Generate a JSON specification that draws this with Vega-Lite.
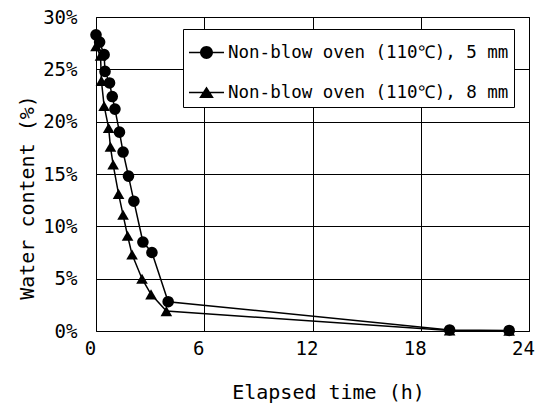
{
  "$schema": "https://vega.github.io/schema/vega-lite/v6.json",
  "width": 433,
  "height": 314,
  "autosize": {"type": "none"},
  "padding": {"left": 96, "top": 17, "right": 6, "bottom": 73},
  "background": "white",
  "config": {
    "font": "DejaVu Sans Mono",
    "view": {"stroke": "black", "strokeWidth": 1},
    "axis": {
      "domain": false,
      "ticks": false,
      "grid": true,
      "gridColor": "black",
      "gridWidth": 1,
      "gridOpacity": 1,
      "labelFlush": false,
      "labelFont": "DejaVu Sans Mono",
      "labelFontSize": 19,
      "labelColor": "black",
      "titleFont": "DejaVu Sans Mono",
      "titleFontSize": 20,
      "titleFontWeight": "normal",
      "titleColor": "black"
    }
  },
  "data": {
    "values": [
      {"series": "Non-blow oven (110℃), 5 mm", "time": 0, "water": 28.3},
      {"series": "Non-blow oven (110℃), 5 mm", "time": 0.2, "water": 27.6},
      {"series": "Non-blow oven (110℃), 5 mm", "time": 0.45, "water": 26.4},
      {"series": "Non-blow oven (110℃), 5 mm", "time": 0.5, "water": 24.8},
      {"series": "Non-blow oven (110℃), 5 mm", "time": 0.75, "water": 23.7},
      {"series": "Non-blow oven (110℃), 5 mm", "time": 0.9, "water": 22.4},
      {"series": "Non-blow oven (110℃), 5 mm", "time": 1.05, "water": 21.2},
      {"series": "Non-blow oven (110℃), 5 mm", "time": 1.3, "water": 19.0},
      {"series": "Non-blow oven (110℃), 5 mm", "time": 1.5, "water": 17.1},
      {"series": "Non-blow oven (110℃), 5 mm", "time": 1.8, "water": 14.8},
      {"series": "Non-blow oven (110℃), 5 mm", "time": 2.1, "water": 12.4},
      {"series": "Non-blow oven (110℃), 5 mm", "time": 2.6, "water": 8.5},
      {"series": "Non-blow oven (110℃), 5 mm", "time": 3.1, "water": 7.5},
      {"series": "Non-blow oven (110℃), 5 mm", "time": 4.0, "water": 2.8},
      {"series": "Non-blow oven (110℃), 5 mm", "time": 19.6, "water": 0.1},
      {"series": "Non-blow oven (110℃), 5 mm", "time": 22.9, "water": 0.05},
      {"series": "Non-blow oven (110℃), 8 mm", "time": 0, "water": 27.2},
      {"series": "Non-blow oven (110℃), 8 mm", "time": 0.25, "water": 26.3},
      {"series": "Non-blow oven (110℃), 8 mm", "time": 0.3, "water": 23.9},
      {"series": "Non-blow oven (110℃), 8 mm", "time": 0.45, "water": 21.5},
      {"series": "Non-blow oven (110℃), 8 mm", "time": 0.7, "water": 19.4},
      {"series": "Non-blow oven (110℃), 8 mm", "time": 0.8, "water": 17.6},
      {"series": "Non-blow oven (110℃), 8 mm", "time": 0.95, "water": 15.9},
      {"series": "Non-blow oven (110℃), 8 mm", "time": 1.25, "water": 13.1},
      {"series": "Non-blow oven (110℃), 8 mm", "time": 1.5, "water": 11.1},
      {"series": "Non-blow oven (110℃), 8 mm", "time": 1.75, "water": 9.1},
      {"series": "Non-blow oven (110℃), 8 mm", "time": 2.0, "water": 7.3},
      {"series": "Non-blow oven (110℃), 8 mm", "time": 2.55, "water": 5.0},
      {"series": "Non-blow oven (110℃), 8 mm", "time": 3.05, "water": 3.5},
      {"series": "Non-blow oven (110℃), 8 mm", "time": 3.9, "water": 1.9},
      {"series": "Non-blow oven (110℃), 8 mm", "time": 19.6, "water": 0.05},
      {"series": "Non-blow oven (110℃), 8 mm", "time": 22.9, "water": 0.02}
    ]
  },
  "encoding": {
    "x": {
      "field": "time",
      "type": "quantitative",
      "scale": {"domain": [0, 24], "nice": false},
      "axis": {
        "values": [0, 6, 12, 18, 24],
        "title": "Elapsed time (h)",
        "labelPadding": 8,
        "labelOffset": -6,
        "titleX": 232,
        "titleY": 67,
        "titleAlign": "center",
        "titleBaseline": "alphabetic"
      }
    },
    "y": {
      "field": "water",
      "type": "quantitative",
      "scale": {"domain": [0, 30], "nice": false},
      "axis": {
        "values": [0, 5, 10, 15, 20, 25, 30],
        "labelExpr": "datum.value + '%'",
        "labelPadding": 19,
        "title": "Water content (%)",
        "titleX": -63,
        "titleY": 180,
        "titleAlign": "center",
        "titleBaseline": "alphabetic"
      }
    }
  },
  "layer": [
    {
      "mark": {"type": "line", "color": "black", "strokeWidth": 1.5},
      "encoding": {"detail": {"field": "series"}}
    },
    {
      "transform": [{"filter": "indexof(datum.series, '5 mm') >= 0"}],
      "mark": {"type": "point", "filled": true, "color": "black", "opacity": 1, "size": 135, "shape": "circle"}
    },
    {
      "transform": [{"filter": "indexof(datum.series, '8 mm') >= 0"}],
      "mark": {"type": "point", "filled": true, "color": "black", "opacity": 1, "size": 135, "shape": "triangle-up"}
    },
    {
      "mark": {"type": "point", "filled": true, "color": "black", "opacity": 1, "size": 0},
      "encoding": {
        "shape": {
          "field": "series",
          "type": "nominal",
          "scale": {
            "domain": ["Non-blow oven (110℃), 5 mm", "Non-blow oven (110℃), 8 mm"],
            "range": [
              "M-1,-0.045L1,-0.045L1,0.045L-1,0.045ZM0.37,0A0.37,0.37,0,1,1,-0.37,0A0.37,0.37,0,1,1,0.37,0Z",
              "M-1,-0.045L1,-0.045L1,0.045L-1,0.045ZM0,-0.34L0.42,0.32L-0.42,0.32Z"
            ]
          },
          "legend": {
            "title": null,
            "orient": "none",
            "legendX": 87,
            "legendY": 12,
            "strokeColor": "black",
            "fillColor": "white",
            "padding": 5,
            "rowPadding": 12,
            "symbolSize": 1225,
            "symbolFillColor": "black",
            "symbolStrokeColor": "black",
            "symbolStrokeWidth": 1.5,
            "symbolOpacity": 1,
            "labelOffset": 3,
            "labelFont": "DejaVu Sans Mono",
            "labelFontSize": 17.5,
            "labelColor": "black",
            "labelLimit": 400
          }
        }
      }
    }
  ]
}
